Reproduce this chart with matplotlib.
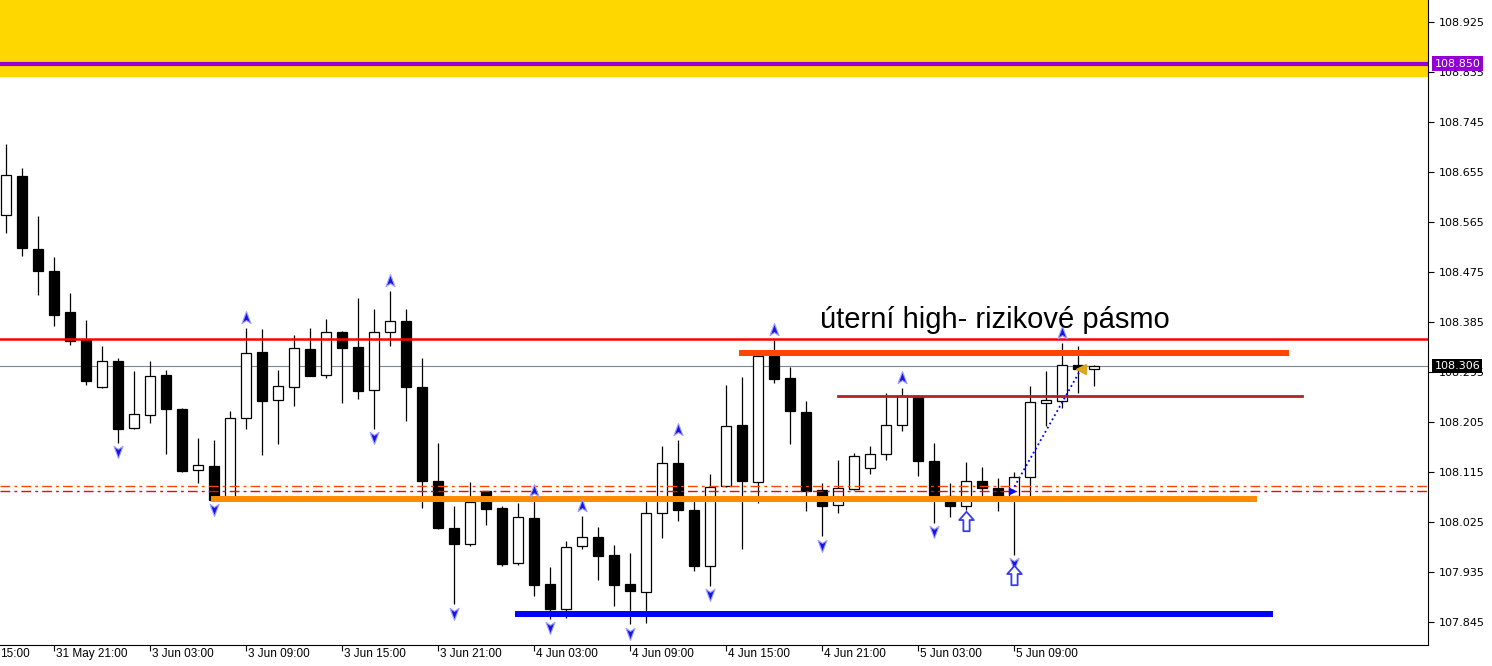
import matplotlib
matplotlib.use("Agg")
import matplotlib.pyplot as plt
import matplotlib.transforms as mtransforms
from matplotlib.path import Path
import numpy as np

# USDJPY H1 candles, index 0 = 31 May 18:00
opens = [108.577, 108.648, 108.517, 108.477, 108.403, 108.353, 108.268, 108.315, 108.194, 108.217,
         108.289, 108.228, 108.118, 108.126, 108.067, 108.212, 108.331, 108.244, 108.268, 108.336,
         108.289, 108.367, 108.340, 108.262, 108.367, 108.387, 108.268, 108.099, 108.015, 107.986,
         108.080, 108.050, 107.951, 108.032, 107.913, 107.869, 107.981, 107.998, 107.966, 107.913,
         107.899, 108.042, 108.131, 108.046, 107.945, 108.089, 108.199, 108.097, 108.324, 108.284,
         108.223, 108.083, 108.055, 108.084, 108.122, 108.147, 108.199, 108.252, 108.135, 108.072,
         108.053, 108.098, 108.086, 108.071, 108.106, 108.240, 108.243, 108.308, 108.300]
highs = [108.705, 108.662, 108.576, 108.502, 108.437, 108.389, 108.342, 108.320, 108.297, 108.315,
         108.299, 108.231, 108.176, 108.173, 108.225, 108.375, 108.372, 108.299, 108.361, 108.375,
         108.390, 108.369, 108.428, 108.408, 108.440, 108.408, 108.321, 108.167, 108.054, 108.097,
         108.081, 108.054, 108.059, 108.062, 107.944, 107.991, 108.036, 108.016, 107.984, 107.969,
         108.072, 108.162, 108.173, 108.062, 108.111, 108.272, 108.286, 108.331, 108.353, 108.304,
         108.243, 108.095, 108.137, 108.149, 108.162, 108.257, 108.266, 108.253, 108.168, 108.095,
         108.133, 108.124, 108.104, 108.115, 108.270, 108.296, 108.347, 108.342, 108.307]
lows = [108.545, 108.504, 108.434, 108.377, 108.344, 108.272, 108.267, 108.168, 108.193, 108.204,
        108.147, 108.115, 108.095, 108.063, 108.064, 108.193, 108.146, 108.166, 108.233, 108.287,
        108.285, 108.240, 108.247, 108.193, 108.342, 108.207, 108.051, 108.013, 107.877, 107.982,
        108.020, 107.946, 107.948, 107.892, 107.851, 107.853, 107.977, 107.921, 107.874, 107.841,
        107.843, 107.997, 108.026, 107.936, 107.910, 108.088, 107.977, 108.060, 108.276, 108.166,
        108.045, 107.999, 108.041, 108.083, 108.112, 108.137, 108.189, 108.107, 108.024, 108.034,
        108.047, 108.071, 108.044, 107.966, 108.071, 108.197, 108.231, 108.258, 108.269]
closes = [108.649, 108.518, 108.476, 108.398, 108.351, 108.279, 108.315, 108.192, 108.219, 108.287,
          108.228, 108.116, 108.127, 108.065, 108.212, 108.329, 108.242, 108.269, 108.338, 108.288,
          108.367, 108.339, 108.261, 108.367, 108.387, 108.268, 108.098, 108.014, 107.986, 108.061,
          108.049, 107.950, 108.034, 107.912, 107.869, 107.980, 107.998, 107.963, 107.912, 107.900,
          108.042, 108.131, 108.047, 107.946, 108.088, 108.197, 108.099, 108.324, 108.283, 108.224,
          108.081, 108.054, 108.086, 108.143, 108.147, 108.199, 108.252, 108.135, 108.071, 108.053,
          108.098, 108.087, 108.071, 108.106, 108.241, 108.245, 108.308, 108.300, 108.306]

fractal_up = [15, 24, 33, 36, 42, 48, 56, 66]
fractal_down = [7, 13, 23, 28, 34, 39, 44, 51, 58, 63]

time_ticks = [3, 9, 15, 21, 27, 33, 39, 45, 51, 57, 63]
time_labels = ["31 May 21:00", "3 Jun 03:00", "3 Jun 09:00", "3 Jun 15:00",
               "3 Jun 21:00", "4 Jun 03:00", "4 Jun 09:00", "4 Jun 15:00", "4 Jun 21:00",
               "5 Jun 03:00", "5 Jun 09:00"]
first_label = "15:00"   # tail of "31 May 15:00", cut at the chart's left edge
price_ticks = [107.845 + 0.09 * k for k in range(13)]

bid = 108.306
zone_low, zone_high = 108.826, 109.10
purple_level = 108.850
red_level = 108.354
dashdot_levels = [108.090, 108.081]

# trend segments: start candle, end candle, price
seg_start = [46, 52, 13, 32]
seg_end = [80, 81, 78, 79]
seg_price = [108.329, 108.252, 108.066, 107.859]
seg_colors = ['#FF4500', '#B22222', '#FF8C00', '#0000FF']
seg_widths = [4.3, 2.0, 4.3, 4.3]

# hollow arrow objects
arrow_idx = [60, 63]
arrow_price = [108.027, 107.930]

# trade: open / close
trade_x = [62.875, 67.2]
trade_y = [108.081, 108.301]

fig = plt.figure(figsize=(14.92, 6.66), dpi=100)
ax = fig.add_axes([0, 21 / 666, 1428 / 1492, 645 / 666])
ax.set_xlim(-0.375, 88.875)
ax.set_ylim(107.845 - 23 / 555.6, 107.845 + 622 / 555.6)

ax.axhspan(zone_low, zone_high, color='#FFD700', zorder=0, lw=0)
ax.axhline(bid, color='#778899', lw=0.8, zorder=1)

x = np.arange(len(opens))
o = np.array(opens)
c = np.array(closes)
up = c >= o
ax.vlines(x, lows, highs, color='black', lw=0.9, zorder=2)
ax.bar(x[up], (c - o)[up], bottom=o[up], width=0.66, color='white',
       edgecolor='black', lw=0.9, zorder=3)
ax.bar(x[~up], (o - c)[~up], bottom=c[~up], width=0.66, color='black',
       edgecolor='black', lw=0.9, zorder=3)

ax.axhline(purple_level, color='#9400D3', lw=3, zorder=4)
ax.axhline(red_level, color='#FF0000', lw=1.8, zorder=4)
ax.axhline(dashdot_levels[0], color='#FF4500', lw=1.0, dashes=(7, 3, 2, 3), zorder=4)
ax.axhline(dashdot_levels[1], color='#FF0000', lw=1.0, dashes=(7, 3, 2, 3), zorder=4)

for s, e, p, col, w in zip(seg_start, seg_end, seg_price, seg_colors, seg_widths):
    ax.plot([s, e], [p, p], color=col, lw=w, solid_capstyle='projecting', zorder=4)

# fractal darts
dart_up = Path([(0, 1), (0.65, -0.75), (0, -0.3), (-0.65, -0.75), (0, 1)],
               [Path.MOVETO, Path.LINETO, Path.LINETO, Path.LINETO, Path.CLOSEPOLY])
dart_down = Path([(0, -1), (0.65, 0.75), (0, 0.3), (-0.65, 0.75), (0, -1)],
                 [Path.MOVETO, Path.LINETO, Path.LINETO, Path.LINETO, Path.CLOSEPOLY])
h = np.array(highs)
l = np.array(lows)
ax.plot(fractal_up, h[fractal_up] + 0.018, ls='none', marker=dart_up, ms=10,
        mfc='#1515E8', mec='#A0A0FF', mew=0.8, zorder=5)
ax.plot(fractal_down, l[fractal_down] - 0.015, ls='none', marker=dart_down, ms=10,
        mfc='#1515E8', mec='#A0A0FF', mew=0.8, zorder=5)

block_up = Path([(0, 1), (0.75, 0.15), (0.32, 0.15), (0.32, -1), (-0.32, -1),
                 (-0.32, 0.15), (-0.75, 0.15), (0, 1)],
                [Path.MOVETO] + [Path.LINETO] * 6 + [Path.CLOSEPOLY])
ax.plot(arrow_idx, arrow_price, ls='none', marker=block_up, ms=14,
        mfc='white', mec='#3A3AF0', mew=1.3, zorder=5)

ax.plot(trade_x, trade_y, ls=':', color='#0000FF', lw=1.3, zorder=5)
ax.plot(trade_x[0], trade_y[0], marker='>', ms=5, color='#0000FF', ls='none', zorder=6)
ax.plot(trade_x[1], trade_y[1], marker='<', ms=7, color='#DAA520', ls='none', zorder=6)

ax.text(50.875, 108.374, 'úterní high- rizikové pásmo', fontsize=21,
        family='Liberation Sans', va='baseline', ha='left', zorder=6)

# axes styling
for side in ['top', 'left']:
    ax.spines[side].set_visible(False)
ax.spines['right'].set_linewidth(0.8)
ax.spines['bottom'].set_linewidth(0.8)
ax.yaxis.tick_right()
ax.set_yticks(price_ticks)
ax.set_yticklabels([f"{p:.3f}" for p in price_ticks])
ax.tick_params(axis='y', length=4, width=0.8, pad=4, labelsize=8)
ax.set_xticks(time_ticks)
ax.set_xticklabels([])
ax.tick_params(axis='x', length=4, width=0.8)

tr = mtransforms.blended_transform_factory(ax.transData, ax.transAxes)
for t, lab in zip(time_ticks, time_labels):
    ax.text(t + 0.12, -0.0135, lab, transform=tr, ha='left', va='center',
            fontsize=8.5, family='Liberation Sans', clip_on=False)
ax.text(0.0, -0.0135, first_label, transform=ax.transAxes, ha='left', va='center',
        fontsize=8.5, family='Liberation Sans', clip_on=False)

ty = mtransforms.blended_transform_factory(ax.transAxes, ax.transData)
ax.text(1.0045, purple_level, f"{purple_level:.3f}", transform=ty, ha='left', va='center',
        fontsize=8, color='white', clip_on=False, zorder=10,
        bbox=dict(boxstyle='square,pad=0.2', fc='#9400D3', ec='none'))
ax.text(1.0045, bid, f"{bid:.3f}", transform=ty, ha='left', va='center',
        fontsize=8, color='white', clip_on=False, zorder=10,
        bbox=dict(boxstyle='square,pad=0.2', fc='black', ec='none'))

fig.savefig('out.png', dpi=100)
